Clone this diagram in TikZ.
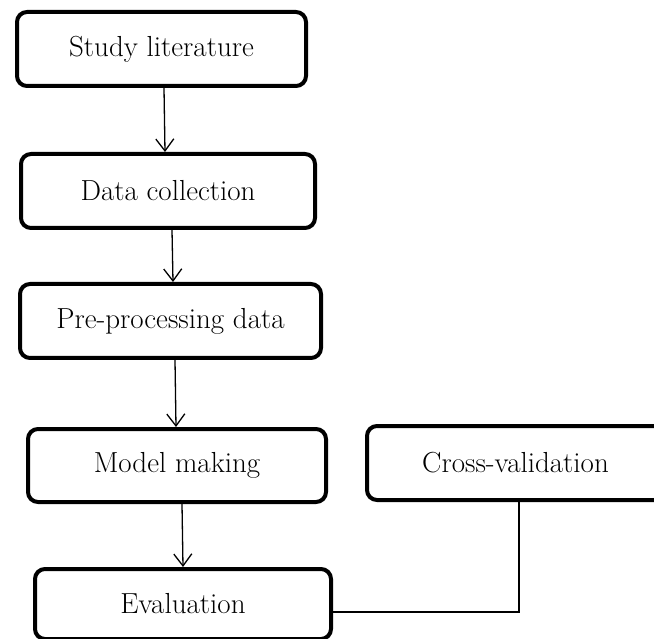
\documentclass[tikz,border=0pt]{standalone}
\usetikzlibrary{arrows.meta}
\begin{document}
\begin{tikzpicture}[x=1pt,y=-1pt,
  stepbox/.style={draw=black, line width=4pt, rounded corners=10pt, align=center,
    font=\fontsize{29}{33}\selectfont, inner sep=0pt},
  arr/.style={line width=1.3pt, -{Straight Barb[length=12pt,width=18pt,line width=1.3pt]}},
  link/.style={line width=1.3pt}]
\useasboundingbox (0,0) rectangle (654,639);
\node[stepbox, minimum width=289pt, minimum height=74pt] (s) at (161.5,49) {Study literature};
\node[stepbox, minimum width=294pt, minimum height=74pt] (d) at (168,191) {Data collection};
\node[stepbox, minimum width=301pt, minimum height=74pt] (p) at (170.5,321) {Pre-processing data};
\node[stepbox, minimum width=298pt, minimum height=73pt] (m) at (177,465.5) {Model making};
\node[stepbox, minimum width=297pt, minimum height=74pt] (c) at (515.5,463) {Cross-validation};
\node[stepbox, minimum width=296pt, minimum height=70pt] (e) at (183,604) {Evaluation};
\draw[arr] ([xshift=2.5pt]s.south) -- ([xshift=-3pt]d.north);
\draw[arr] ([xshift=4pt]d.south) -- ([xshift=2.5pt]p.north);
\draw[arr] ([xshift=4.5pt]p.south) -- ([xshift=-1pt]m.north);
\draw[arr] ([xshift=5pt]m.south) -- ([xshift=0pt]e.north);
\draw[link] ([xshift=3.5pt]c.south) |- ([yshift=-8pt]e.east);
\end{tikzpicture}
\end{document}
